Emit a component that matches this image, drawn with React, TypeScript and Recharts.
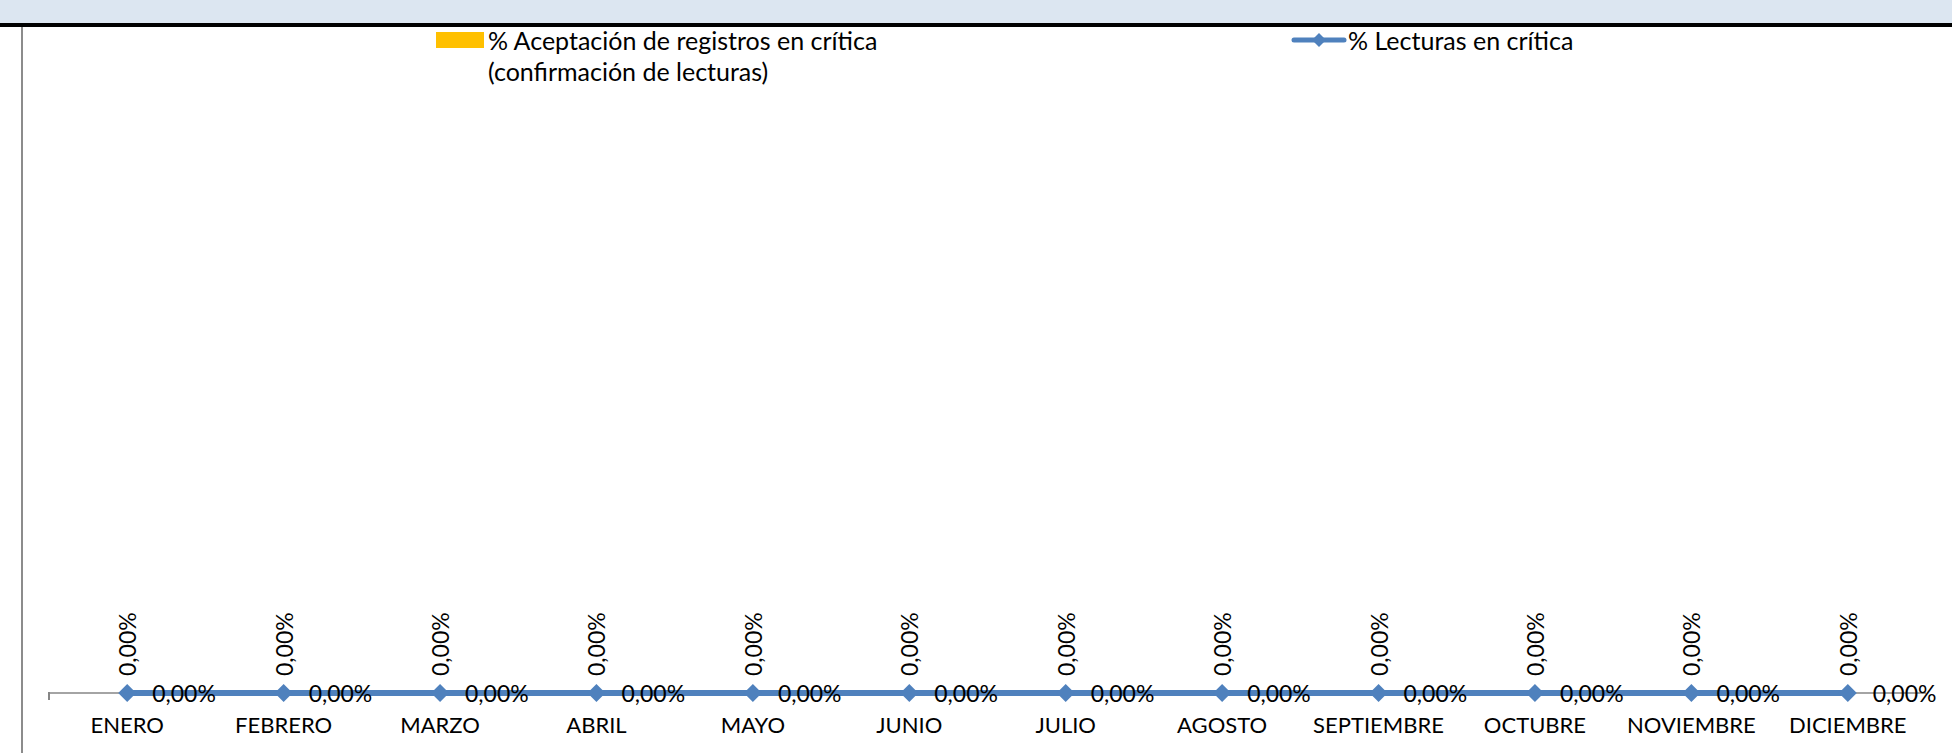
import React from "react";
import { ComposedChart, Bar, Line, XAxis, YAxis, Legend, LabelList, ReferenceLine } from "recharts";

const months = [
  "ENERO", "FEBRERO", "MARZO", "ABRIL", "MAYO", "JUNIO",
  "JULIO", "AGOSTO", "SEPTIEMBRE", "OCTUBRE", "NOVIEMBRE", "DICIEMBRE",
];
const aceptacion = [0, 0, 0, 0, 0, 0, 0, 0, 0, 0, 0, 0];
const lecturas = [0, 0, 0, 0, 0, 0, 0, 0, 0, 0, 0, 0];

const data = months.map((m, i) => ({ mes: m, aceptacion: aceptacion[i], lecturas: lecturas[i] }));

const FONT = "Lato, 'Open Sans', sans-serif";
const BLUE = "#4f81bd";
const YELLOW = "#ffc000";

const pct = (v: number) => `${Number(v).toFixed(2).replace(".", ",")}%`;

const CategoryTick = (props: any) => {
  const { x, y, payload } = props;
  return (
    <text x={x} y={y + 13} textAnchor="middle" dominantBaseline="central" fontFamily={FONT} fontSize={22} fill="#000">
      {payload.value}
    </text>
  );
};

const Diamond = (props: any) => {
  const { cx, cy } = props;
  if (cx == null || cy == null) return null;
  const r = 9;
  return <polygon points={`${cx},${cy - r} ${cx + r},${cy} ${cx},${cy + r} ${cx - r},${cy}`} fill={BLUE} />;
};

// rotated label above the (zero-height) bar
const BarLabel = (props: any) => {
  const { x, y, value } = props;
  const ty = y - 17;
  return (
    <text x={x} y={ty} transform={`rotate(-90 ${x} ${ty})`} textAnchor="start" dominantBaseline="central" fontFamily={FONT} fontSize={23} fill="#000">
      {pct(value)}
    </text>
  );
};

const LineLabel = (props: any) => {
  const { x, y, value } = props;
  return (
    <text x={x + 25} y={y} textAnchor="start" dominantBaseline="central" fontFamily={FONT} fontSize={23} fill="#000">
      {pct(value)}
    </text>
  );
};

const renderLegend = () => (
  <div style={{ position: "relative", width: 1952, height: 60, fontFamily: FONT, fontSize: 25, color: "#000" }}>
    <div style={{ position: "absolute", left: 436, top: 5, width: 48, height: 16, background: YELLOW }} />
    <div style={{ position: "absolute", left: 488, top: -2, lineHeight: "31px" }}>
      % Aceptación de registros en crítica
      <br />
      (confirmación de lecturas)
    </div>
    <svg style={{ position: "absolute", left: 1290, top: 3 }} width={58} height={20}>
      <line x1={4} y1={10} x2={54} y2={10} stroke={BLUE} strokeWidth={5} strokeLinecap="round" />
      <polygon points="29,3 36,10 29,17 22,10" fill={BLUE} />
    </svg>
    <div style={{ position: "absolute", left: 1348, top: -2, lineHeight: "31px" }}>% Lecturas en crítica</div>
  </div>
);

export default function App() {
  return (
    <div style={{ position: "absolute", left: 0, top: 0, width: 1952, height: 753, background: "#fff", overflow: "hidden" }}>
      <div style={{ position: "absolute", left: 0, top: 0, width: 1952, height: 23, background: "#dce6f1" }} />
      <div style={{ position: "absolute", left: 0, top: 23, width: 1952, height: 4, background: "#000" }} />
      <div style={{ position: "absolute", left: 21, top: 27, width: 2, height: 726, background: "#8c8c8c" }} />
      <div style={{ position: "absolute", left: 48, top: 692, width: 1.5, height: 8, background: "#868686" }} />
      <div style={{ position: "absolute", left: 0, top: 27 }}>
        <ComposedChart width={1952} height={726} data={data} margin={{ top: 70, right: 26, bottom: 0, left: 49 }}>
          <XAxis
            dataKey="mes"
            height={50}
            axisLine={false}
            tickLine={false}
            tick={<CategoryTick />}
            interval={0}
          />
          <YAxis hide domain={[0, 1]} padding={{ top: 0, bottom: 10 }} />
          <Legend verticalAlign="top" content={renderLegend} wrapperStyle={{ top: 0, left: 0, width: 1952 }} />
          <ReferenceLine y={0} stroke="#868686" strokeWidth={1.5} zIndex={0} />
          <Bar
            dataKey="aceptacion"
            name="% Aceptación de registros en crítica (confirmación de lecturas)"
            fill={YELLOW}
            barSize={60}
            isAnimationActive={false}
          />
          {/* carries the rotated labels of the bar series, which has zero height */}
          <Line
            dataKey="aceptacion"
            legendType="none"
            stroke="none"
            dot={false}
            activeDot={false}
            isAnimationActive={false}
          >
            <LabelList dataKey="aceptacion" content={<BarLabel />} />
          </Line>
          <Line
            dataKey="lecturas"
            name="% Lecturas en crítica"
            stroke={BLUE}
            strokeWidth={6}
            dot={<Diamond />}
            activeDot={false}
            isAnimationActive={false}
          >
            <LabelList dataKey="lecturas" content={<LineLabel />} />
          </Line>
        </ComposedChart>
      </div>
    </div>
  );
}
